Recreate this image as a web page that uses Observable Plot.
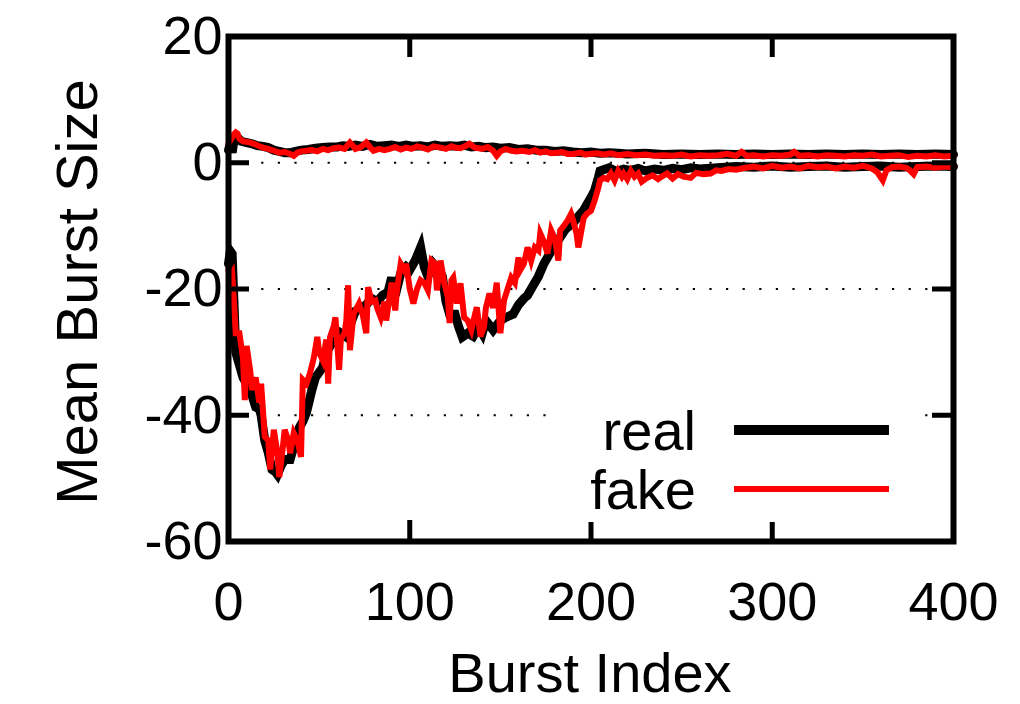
<!DOCTYPE html>
<html><head><meta charset="utf-8">
<script src="https://cdn.jsdelivr.net/npm/d3@7"></script>
<script src="https://cdn.jsdelivr.net/npm/@observablehq/plot@0.6"></script>
<style>body{margin:0;background:#fff}</style>
</head><body><div id="chart"></div>
<script>
// ---- data ----
const realLowX = [0,1,2,3,4,6,8,10,12,15,17,18,20,22,24,26,27,29,31,34,36,39,41,43,46,48,52,54,57,60,62,65,68,70,73,76,79,82,85,88,90,92,95,98,100,103,106,108,110,113,116,118,120,122,125,127,129,132,135,138,140,142,146,150,153,157,160,163,165,168,171,174,176,179,183,186,190,193,196,198,200,202,204,205,208,210,214,218,222,226,230,235,240,245,250,255,260,270,280,290,300,310,320,330,340,350,360,370,380,390,400];
const realLowY = [-16,-14,-14.4,-22,-30,-32,-34,-35,-36,-38.7,-39,-40,-44,-46,-48.6,-49,-49.4,-48,-47,-47,-45,-42,-41,-39.6,-36,-34,-32.4,-30,-28.6,-28,-27,-27.6,-25,-23.5,-23,-22.5,-21.5,-22,-21,-20.5,-18.2,-21,-17.5,-16.5,-17,-15.5,-13.4,-16.5,-18,-16,-17,-18,-22,-24,-24,-26,-27.6,-27,-27.5,-26,-27,-25,-26.5,-25,-24.5,-24,-22.5,-21.5,-21,-19.5,-18,-16,-15,-13.5,-11.8,-10.5,-9.6,-8.5,-7.5,-6.5,-5.5,-4.4,-2.4,-1.3,-1.0,-0.8,-1.4,-1.0,-1.2,-0.9,-1.3,-1.0,-1.2,-0.9,-1.1,-0.8,-1.0,-0.8,-0.6,-0.7,-0.5,-0.7,-0.6,-0.5,-0.7,-0.6,-0.5,-0.7,-0.6,-0.5,-0.6];

const fakeLowX = [0,1,2,3,4,6,8,9,10,12,13,15,17,18,20,22,23,25,27,28,30,31,33,34,36,38,40,41,43,45,47,49,50,52,54,55,56,58,59,61,62,64,65,66,67,69,72,74,76,77,79,81,82,84,86,87,89,90,92,93,95,97,98,100,102,104,106,108,110,112,114,115,117,119,121,122,123,124,126,128,130,132,134,136,137,139,141,142,144,146,148,150,152,154,156,158,160,161,163,165,167,169,171,172,174,176,178,180,182,183,185,187,189,190,192,193,196,198,200,202,204,205,207,209,211,213,215,217,218,220,222,224,226,228,231,234,237,239,242,245,248,251,255,258,262,266,269,272,276,280,285,290,295,300,305,310,315,320,325,330,335,340,345,350,355,358,361,363,366,370,374,376,378,380,385,390,395,400];
const fakeLowY = [-17,-18,-17.5,-22,-27,-27,-31,-37.6,-29,-33,-36,-34,-38,-35,-43.4,-44,-48.6,-42.3,-46,-49.8,-45,-42.3,-44,-46,-42.8,-44,-46.6,-34.4,-35,-33.3,-31,-27.6,-30,-31.3,-28,-35,-27.6,-26,-24.5,-32.8,-28,-27,-25,-19.4,-29.7,-24,-22.3,-24,-27,-19.7,-22,-21.8,-23,-24.5,-22,-25,-21,-19,-23.4,-20,-16,-17,-16,-20,-22.3,-20,-18.6,-19,-20.2,-15.5,-16,-20.2,-15.5,-19,-21.3,-25.4,-18.6,-18.2,-22.3,-19.1,-24.5,-25,-26.5,-24,-22.9,-27.5,-26,-23,-20.7,-23,-19,-27,-21.8,-20,-18.2,-19,-15,-17,-16,-13.4,-15.5,-13.4,-13.9,-11.2,-12.5,-14.4,-10.7,-12,-15.5,-10.7,-10,-9.2,-8.1,-9,-11.2,-13.4,-8.7,-8,-7.6,-6,-4,-2.8,-2.4,-2.6,-1.7,-2.8,-1.3,-2.2,-1.7,-2.6,-1.3,-2.2,-1.7,-3,-2.4,-2,-2.6,-2.2,-1.7,-2.5,-1.8,-2.2,-2.4,-1.6,-1.8,-1.7,-1.2,-1.3,-1.0,-1.1,-0.8,-0.6,-0.9,-0.5,-0.8,-0.6,-0.9,-0.5,-0.7,-0.6,-0.9,-0.6,-0.8,-0.5,-0.9,-1.5,-2.8,-1.2,-0.7,-0.6,-0.8,-1.2,-1.8,-0.7,-0.6,-0.8,-0.6,-0.7];

const realUpX = [0,1,2,3,5,7,10,13,16,19,22,25,28,31,34,37,40,44,48,52,56,60,63,66,70,74,78,82,86,90,94,98,102,106,110,114,118,122,126,130,134,138,142,146,150,155,160,165,170,175,180,185,190,195,200,205,210,215,220,230,240,250,260,270,280,290,300,310,320,330,340,350,360,370,380,390,400];
const realUpY = [2.0,3.0,1.6,3.5,4.0,3.4,3.2,3.0,2.7,2.6,2.4,2.0,1.8,1.6,1.6,1.8,2.0,2.1,2.3,2.4,2.5,2.5,2.7,2.6,2.8,2.6,2.9,2.6,2.7,2.8,2.6,2.8,2.6,2.7,2.5,2.8,2.6,2.7,2.6,2.8,2.5,2.6,2.4,2.5,2.3,2.4,2.1,2.2,2.0,2.0,1.8,1.9,1.7,1.6,1.7,1.5,1.6,1.5,1.4,1.5,1.3,1.4,1.3,1.4,1.3,1.4,1.3,1.4,1.3,1.4,1.3,1.4,1.3,1.4,1.3,1.4,1.3];

const fakeUpX = [0,1,3,4,5,6,8,10,12,15,17,19,22,25,28,31,34,36,38,40,43,46,49,52,55,58,61,64,67,69,70,73,76,78,80,83,86,89,92,95,98,101,104,107,110,113,117,120,123,125,128,131,133,136,140,143,146,148,150,153,156,159,162,166,169,172,175,178,181,184,187,190,194,197,199,203,207,211,215,220,225,230,235,240,245,250,255,260,265,270,275,280,283,286,290,295,300,305,310,312,315,320,325,330,335,340,345,350,355,360,365,370,375,380,385,390,395,400];
const fakeUpY = [3.0,3.5,4.5,4.8,4.6,3.8,3.4,3.3,3.2,2.9,2.6,2.4,2.2,1.9,1.6,1.7,1.4,1.1,1.6,1.8,1.9,2.0,1.8,2.2,2.0,2.3,2.4,2.2,3.2,2.6,2.2,2.5,3.2,2.5,1.9,2.2,2.0,2.2,2.5,2.1,2.4,2.2,2.6,2.4,2.1,2.6,2.4,2.2,2.6,2.4,2.3,2.7,3.0,2.4,2.2,2.5,1.9,1.1,1.8,2.2,1.9,1.8,1.9,1.7,2.0,1.6,1.8,1.5,1.6,1.7,1.4,1.4,1.6,1.3,1.4,1.5,1.3,1.5,1.2,1.4,1.2,1.3,1.1,1.2,1.1,1.3,1.0,1.2,1.1,1.2,1.4,1.1,1.7,1.1,1.2,1.0,1.2,1.1,1.3,1.7,1.1,1.2,1.0,1.2,1.1,1.0,1.2,1.1,1.3,1.0,1.1,1.2,0.9,1.1,1.0,1.2,1.0,1.1];

const xTicks = [0, 100, 200, 300, 400];
const yTicks = [20, 0, -20, -40, -60];
const gridY = [0, -20, -40];
const seriesNames = ["real", "fake"];
const seriesColors = ["#000000", "#ff0000"];
const xTitle = "Burst Index";
const yTitle = "Mean Burst Size";

// ---- build rows ----
const rows = (xs, ys, series, part) => xs.map((x, i) => ({x, y: ys[i], series, part}));
const realLow = rows(realLowX, realLowY, "real", "low");
const realUp = rows(realUpX, realUpY, "real", "up");
const fakeLow = rows(fakeLowX, fakeLowY, "fake", "low");
const fakeUp = rows(fakeUpX, fakeUpY, "fake", "up");

const W = 1020, H = 704, mL = 228, mR = 67, mT = 36, mB = 163;
const innerW = W - mL - mR, innerH = H - mT - mB;
const FONT = "'Liberation Sans', Arial, Helvetica, sans-serif";
const FS = 54;

const lineOpts = (color, sw) => ({x: "x", y: "y", stroke: color, strokeWidth: sw, strokeLinejoin: "miter", strokeMiterlimit: 4});

const plot = Plot.plot({
  width: W, height: H,
  marginLeft: mL, marginRight: mR, marginTop: mT, marginBottom: mB,
  style: {fontFamily: FONT, fontSize: FS + "px", background: "#fff", color: "#000", overflow: "visible"},
  x: {domain: [0, 400], axis: null},
  y: {domain: [-60, 20], axis: null},
  marks: [
    Plot.ruleY(gridY, {y: d => d, stroke: "#000", strokeWidth: 2.2, strokeDasharray: "2.2,14.4"}),
    Plot.line(realUp, lineOpts(seriesColors[0], 9)),
    Plot.line(realLow, lineOpts(seriesColors[0], 9)),
    Plot.line(fakeUp, lineOpts(seriesColors[1], 6)),
    Plot.line(fakeLow, lineOpts(seriesColors[1], 6)),
    Plot.tickX(xTicks, {x: d => d, insetTop: innerH - 21, stroke: "#000", strokeWidth: 5}),
    Plot.tickX(xTicks, {x: d => d, insetBottom: innerH - 21, stroke: "#000", strokeWidth: 5}),
    Plot.tickY(yTicks, {y: d => d, insetRight: innerW - 21, stroke: "#000", strokeWidth: 5}),
    Plot.tickY(yTicks, {y: d => d, insetLeft: innerW - 21, stroke: "#000", strokeWidth: 5}),
    Plot.frame({stroke: "#000", strokeWidth: 6}),
    Plot.axisX(xTicks, {tickSize: 0, tickPadding: 40, fontSize: FS, label: null, tickFormat: d => String(d)}),
    Plot.axisY(yTicks, {tickSize: 0, tickPadding: 6, fontSize: FS, label: null, tickFormat: d => String(d)})
  ]
});

document.getElementById("chart").appendChild(plot);

// ---- titles and legend ----
const svg = d3.select(plot);
svg.append("text").attr("x", 590).attr("y", 692).attr("text-anchor", "middle")
  .attr("font-family", FONT).attr("font-size", FS + 2).attr("fill", "#000").text(xTitle);
svg.append("text").attr("transform", "translate(97,292) rotate(-90)").attr("text-anchor", "middle")
  .attr("font-family", FONT).attr("font-size", FS + 4).attr("fill", "#000").text(yTitle);

const lg = svg.append("g");
lg.append("rect").attr("x", 556).attr("y", 404).attr("width", 362).attr("height", 118).attr("fill", "#fff");
seriesNames.forEach((name, i) => {
  const yy = 430 + i * 59;
  lg.append("text").attr("x", 696).attr("y", yy + 20).attr("text-anchor", "end")
    .attr("font-family", FONT).attr("font-size", FS + 2).attr("fill", "#000").text(name);
  lg.append("line").attr("x1", 734).attr("x2", 889).attr("y1", yy).attr("y2", yy)
    .attr("stroke", seriesColors[i]).attr("stroke-width", i === 0 ? 10 : 6);
});
</script>
</body></html>
